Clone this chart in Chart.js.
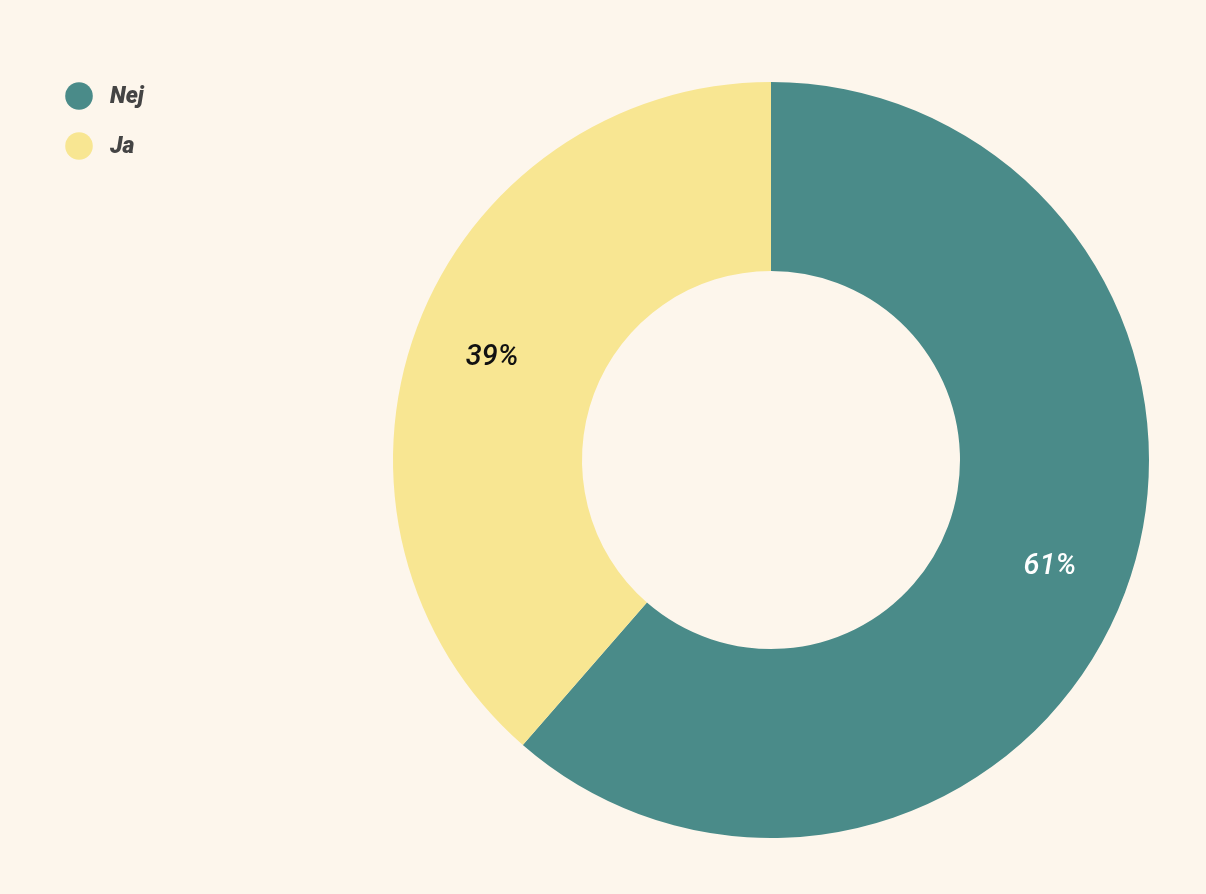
<!DOCTYPE html>
<html>
<head>
<meta charset="utf-8">
<script src="https://cdn.jsdelivr.net/npm/chart.js@4/dist/chart.umd.min.js"></script>
<style>
  html, body { margin: 0; padding: 0; background: #FDF6EC; }
  #wrap { width: 1206px; height: 894px; }
</style>
</head>
<body>
<div id="wrap"><canvas id="c" width="1206" height="894"></canvas></div>
<script>
const categories = ["Nej", "Ja"];
const values = [61.4, 38.6];
const valueLabels = ["61%", "39%"];
const colors = ["#4A8B89", "#F8E692"];
const labelColors = ["#FFFFFF", "#111111"];

const customLegend = {
  id: 'customLegend',
  afterDraw(chart) {
    const ctx = chart.ctx;
    ctx.save();
    categories.forEach((cat, i) => {
      const y = 96 + i * 50;
      ctx.beginPath();
      ctx.arc(79, y, 13.8, 0, Math.PI * 2);
      ctx.fillStyle = colors[i];
      ctx.fill();
      ctx.font = 'italic 900 23px Roboto';
      ctx.fillStyle = '#444444';
      ctx.textBaseline = 'middle';
      ctx.textAlign = 'left';
      ctx.fillText(cat, 110, y + 1);
    });
    ctx.restore();
  }
};

const sliceLabels = {
  id: 'sliceLabels',
  afterDatasetsDraw(chart) {
    const ctx = chart.ctx;
    const meta = chart.getDatasetMeta(0);
    ctx.save();
    meta.data.forEach((arc, i) => {
      const p = arc.getProps(['x','y','startAngle','endAngle','innerRadius','outerRadius'], true);
      const mid = (p.startAngle + p.endAngle) / 2;
      const r = p.innerRadius + 0.575 * (p.outerRadius - p.innerRadius);
      const x = p.x + Math.cos(mid) * r;
      const y = p.y + Math.sin(mid) * r;
      ctx.font = 'italic 500 29px Roboto';
      ctx.fillStyle = labelColors[i];
      ctx.textAlign = 'center';
      ctx.textBaseline = 'middle';
      ctx.fillText(valueLabels[i], x, y + 2);
    });
    ctx.restore();
  }
};

new Chart(document.getElementById('c'), {
  type: 'doughnut',
  data: {
    labels: categories,
    datasets: [{
      data: values,
      backgroundColor: colors,
      borderWidth: 0,
      hoverOffset: 0
    }]
  },
  options: {
    responsive: false,
    animation: false,
    cutout: '50%',
    layout: { padding: { left: 393, right: 57, top: 82, bottom: 56 } },
    plugins: {
      legend: { display: false },
      tooltip: { enabled: false }
    }
  },
  plugins: [customLegend, sliceLabels]
});
</script>
</body>
</html>
